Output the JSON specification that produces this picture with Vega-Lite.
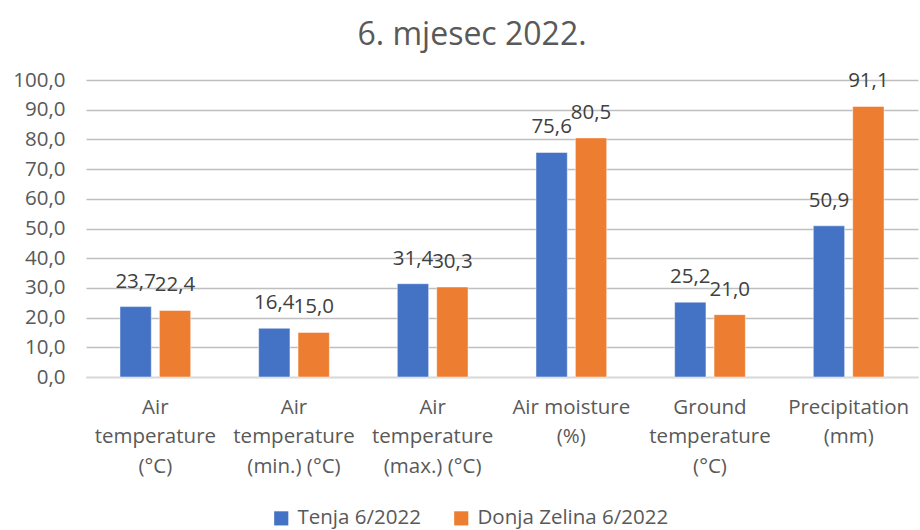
{
  "$schema": "https://vega.github.io/schema/vega-lite/v6.json",
  "width": 832,
  "height": 297,
  "autosize": "none",
  "padding": {"left": 86, "top": 80, "right": 2, "bottom": 153},
  "background": "white",
  "config": {
    "font": "Open Sans",
    "view": {"stroke": null},
    "locale": {
      "number": {"decimal": ",", "thousands": ".", "grouping": [3], "currency": ["", " €"]}
    }
  },
  "title": {
    "text": "6. mjesec 2022.",
    "fontSize": 32,
    "font": "Open Sans",
    "fontWeight": "normal",
    "color": "#595959",
    "anchor": "middle",
    "dx": -30,
    "offset": 18
  },
  "data": {
    "values": [
      {"category": "Air|temperature|(°C)", "series": "Tenja 6/2022", "value": 23.7},
      {"category": "Air|temperature|(°C)", "series": "Donja Zelina 6/2022", "value": 22.4},
      {"category": "Air|temperature|(min.) (°C)", "series": "Tenja 6/2022", "value": 16.4},
      {"category": "Air|temperature|(min.) (°C)", "series": "Donja Zelina 6/2022", "value": 15.0},
      {"category": "Air|temperature|(max.) (°C)", "series": "Tenja 6/2022", "value": 31.4},
      {"category": "Air|temperature|(max.) (°C)", "series": "Donja Zelina 6/2022", "value": 30.3},
      {"category": "Air moisture|(%)", "series": "Tenja 6/2022", "value": 75.6},
      {"category": "Air moisture|(%)", "series": "Donja Zelina 6/2022", "value": 80.5},
      {"category": "Ground|temperature|(°C)", "series": "Tenja 6/2022", "value": 25.2},
      {"category": "Ground|temperature|(°C)", "series": "Donja Zelina 6/2022", "value": 21.0},
      {"category": "Precipitation|(mm)", "series": "Tenja 6/2022", "value": 50.9},
      {"category": "Precipitation|(mm)", "series": "Donja Zelina 6/2022", "value": 91.1}
    ]
  },
  "encoding": {
    "x": {
      "field": "category",
      "type": "nominal",
      "sort": ["Air|temperature|(°C)", "Air|temperature|(min.) (°C)", "Air|temperature|(max.) (°C)", "Air moisture|(%)", "Ground|temperature|(°C)", "Precipitation|(mm)"],
      "scale": {"paddingInner": 0.49, "paddingOuter": 0.245},
      "axis": {
        "title": null,
        "labelAngle": 0,
        "labelExpr": "split(datum.value, '|')",
        "labelFontSize": 20.5,
        "labelColor": "#595959",
        "labelLineHeight": 29.5,
        "labelPadding": 20,
        "labelBaseline": "top",
        "labelLimit": 0,
        "ticks": false,
        "domainColor": "#d9d9d9",
        "domainWidth": 1.5
      }
    },
    "xOffset": {
      "field": "series",
      "type": "nominal",
      "sort": ["Tenja 6/2022", "Donja Zelina 6/2022"],
      "scale": {"paddingInner": 0.205, "paddingOuter": 0}
    },
    "y": {
      "field": "value",
      "type": "quantitative",
      "scale": {"domain": [0, 100]},
      "axis": {
        "title": null,
        "values": [0, 10, 20, 30, 40, 50, 60, 70, 80, 90, 100],
        "format": ".1f",
        "labelFontSize": 20.5,
        "labelColor": "#595959",
        "labelPadding": 21,
        "ticks": false,
        "domain": false,
        "gridColor": "#bfbfbf",
        "gridWidth": 1.3
      }
    }
  },
  "layer": [
    {
      "mark": {"type": "bar", "stroke": "white", "strokeWidth": 0.8, "strokeOpacity": 0.6},
      "encoding": {
        "color": {
          "field": "series",
          "type": "nominal",
          "sort": ["Tenja 6/2022", "Donja Zelina 6/2022"],
          "scale": {"domain": ["Tenja 6/2022", "Donja Zelina 6/2022"], "range": ["#4472C4", "#ED7D31"]},
          "legend": {
            "title": null,
            "orient": "none",
            "direction": "horizontal",
            "legendX": 185,
            "legendY": 428,
            "symbolType": "square",
            "symbolSize": 200,
            "symbolStrokeWidth": 0,
            "labelFontSize": 20.5,
            "labelColor": "#595959",
            "labelLimit": 0,
            "columnPadding": 30,
            "labelOffset": 6
          }
        }
      }
    },
    {
      "mark": {"type": "text", "baseline": "alphabetic", "dy": -19, "fontSize": 20.5, "color": "#404040"},
      "encoding": {
        "text": {"field": "value", "type": "quantitative", "format": ".1f"}
      }
    }
  ]
}
